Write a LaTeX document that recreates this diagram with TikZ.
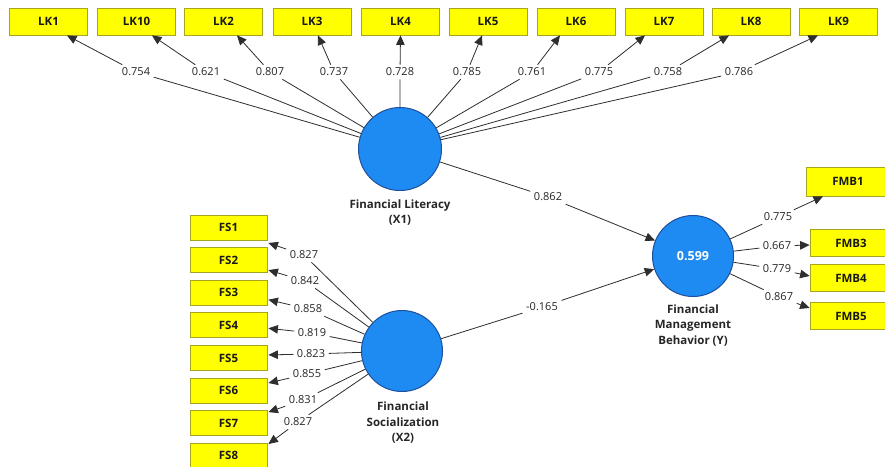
\documentclass[tikz,border=0pt]{standalone}
\usepackage{fontspec}
\setmainfont{Open Sans}
\usetikzlibrary{arrows.meta}
\definecolor{boxfill}{HTML}{FFFF00}
\definecolor{boxline}{HTML}{A5A520}
\definecolor{circfill}{HTML}{1E8BF2}
\definecolor{circline}{HTML}{1D4F9C}
\definecolor{linec}{HTML}{2E2E2E}
\begin{document}
\begin{tikzpicture}[x=1pt,y=-1pt,
  ind/.style={rectangle, draw=boxline, fill=boxfill, line width=0.8pt, minimum width=78pt, minimum height=27pt, inner sep=0pt, font=\bfseries\fontsize{11.5}{13}\selectfont, text=black!90},
  fsbox/.style={ind, minimum width=77pt, minimum height=25pt},
  fmbbox/.style={ind, minimum width=82pt, minimum height=27pt},
  lat/.style={circle, draw=circline, fill=circfill, line width=1pt, minimum size=83pt, inner sep=0pt},
  lbl/.style={fill=white, inner xsep=3.5pt, inner ysep=3pt, font=\fontsize{11}{12}\selectfont, text=black!85},
  cname/.style={align=center, font=\bfseries\fontsize{11.5}{15.5}\selectfont, text=black!85},
  arr/.style={draw=linec, line width=0.8pt, -{Triangle[length=9.5pt,width=8.5pt]}},
  ]
\useasboundingbox (0,0) rectangle (885,466);
\clip (0,0) rectangle (885,466);
\fill[white] (0,0) rectangle (885,466);

% latent variables
\node[lat] (X1) at (400,149) {};
\node[lat, minimum size=81pt] (X2) at (402,351) {};
\node[lat, minimum size=81pt, font=\bfseries\fontsize{12.5}{14}\selectfont, text=white] (Y) at (693,256) {0.599};
\node[cname] (nX1) at (400,212.5) {Financial Literacy\\(X1)};
\node[cname] (nX2) at (403,423) {Financial\\Socialization\\(X2)};
\node[cname] (nY) at (693,325.5) {Financial\\Management\\Behavior (Y)};

% LK indicators
\node[ind] (LK1) at (48.5,21.5) {LK1};
\node[ind] (LK10) at (136.5,21.5) {LK10};
\node[ind] (LK2) at (223.5,21.5) {LK2};
\node[ind] (LK3) at (312,21.5) {LK3};
\node[ind] (LK4) at (400.5,21.5) {LK4};
\node[ind] (LK5) at (488,21.5) {LK5};
\node[ind] (LK6) at (576,21.5) {LK6};
\node[ind] (LK7) at (664,21.5) {LK7};
\node[ind] (LK8) at (751,21.5) {LK8};
\node[ind] (LK9) at (838.5,21.5) {LK9};

\node[lbl] (a1) at (136,72) {0.754};
\node[lbl] (a2) at (206,72) {0.621};
\node[lbl] (a3) at (270,72) {0.807};
\node[lbl] (a4) at (334,72) {0.737};
\node[lbl] (a5) at (400,72) {0.728};
\node[lbl] (a6) at (467,72) {0.785};
\node[lbl] (a7) at (532,72) {0.761};
\node[lbl] (a8) at (599,72) {0.775};
\node[lbl] (a9) at (668,72) {0.758};
\node[lbl] (a10) at (739,72) {0.786};

\draw[arr] (X1) -- (a1) -- ([xshift=18.5pt]LK1.south);
\draw[arr] (X1) -- (a2) -- ([xshift=15.5pt]LK10.south);
\draw[arr] (X1) -- (a3) -- ([xshift=13.5pt]LK2.south);
\draw[arr] (X1) -- (a4) -- ([xshift=6pt]LK3.south);
\draw[arr] (X1) -- (a5) -- ([xshift=0pt]LK4.south);
\draw[arr] (X1) -- (a6) -- ([xshift=-6pt]LK5.south);
\draw[arr] (X1) -- (a7) -- ([xshift=-16pt]LK6.south);
\draw[arr] (X1) -- (a8) -- ([xshift=-19pt]LK7.south);
\draw[arr] (X1) -- (a9) -- ([xshift=-22pt]LK8.south);
\draw[arr] (X1) -- (a10) -- ([xshift=-20.5pt]LK9.south);

% FS indicators
\node[fsbox] (FS1) at (228.5,227.5) {FS1};
\node[fsbox] (FS2) at (228.5,260.1) {FS2};
\node[fsbox] (FS3) at (228.5,292.7) {FS3};
\node[fsbox] (FS4) at (228.5,325.3) {FS4};
\node[fsbox] (FS5) at (228.5,357.9) {FS5};
\node[fsbox] (FS6) at (228.5,390.5) {FS6};
\node[fsbox] (FS7) at (228.5,423.1) {FS7};
\node[fsbox] (FS8) at (228.5,455.7) {FS8};

\node[lbl] (b1) at (304,255) {0.827};
\node[lbl] (b2) at (305,281) {0.842};
\node[lbl] (b3) at (308,309) {0.858};
\node[lbl] (b4) at (312,333) {0.819};
\node[lbl] (b5) at (311,354) {0.823};
\node[lbl] (b6) at (307,374) {0.855};
\node[lbl] (b7) at (303,400) {0.831};
\node[lbl] (b8) at (298,422) {0.827};

\draw[arr] (X2) -- (b1) -- ([xshift=1pt,yshift=-15.5pt]FS1.east);
\draw[arr] (X2) -- (b2) -- ([xshift=1pt,yshift=-10pt]FS2.east);
\draw[arr] (X2) -- (b3) -- ([xshift=1pt,yshift=-7pt]FS3.east);
\draw[arr] (X2) -- (b4) -- ([xshift=1pt,yshift=-3pt]FS4.east);
\draw[arr] (X2) -- (b5) -- ([xshift=1pt,yshift=3pt]FS5.east);
\draw[arr] (X2) -- (b6) -- ([xshift=1pt,yshift=7.5pt]FS6.east);
\draw[arr] (X2) -- (b7) -- ([xshift=1pt,yshift=11pt]FS7.east);
\draw[arr] (X2) -- (b8) -- ([xshift=1pt,yshift=11.7pt]FS8.east);

% structural paths
\node[lbl] (p1) at (548,197) {0.862};
\node[lbl] (p2) at (542,307) {-0.165};
\draw[arr] (X1) -- (p1) -- (Y);
\draw[arr] (X2) -- (p2) -- (Y);

% FMB indicators
\node[ind, minimum width=84pt, minimum height=29pt] (FMB1) at (848,181.5) {FMB1};
\node[fmbbox] (FMB3) at (851,243) {FMB3};
\node[fmbbox] (FMB4) at (851,278) {FMB4};
\node[fmbbox] (FMB5) at (851,316) {FMB5};

\node[lbl] (c1) at (778,217) {0.775};
\node[lbl] (c2) at (777,246) {0.667};
\node[lbl] (c3) at (777,269) {0.779};
\node[lbl] (c4) at (779,297) {0.867};

\draw[arr] (Y) -- (c1) -- ([xshift=-25pt]FMB1.south);
\draw[arr] (Y) -- (c2) -- ([yshift=-2pt]FMB3.west);
\draw[arr] (Y) -- (c3) -- ([yshift=2pt]FMB4.west);
\draw[arr] (Y) -- (c4) -- ([yshift=8pt]FMB5.west);
\end{tikzpicture}
\end{document}
